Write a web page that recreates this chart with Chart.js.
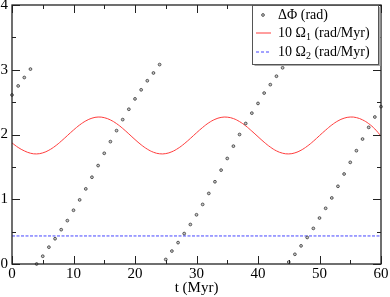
<!DOCTYPE html>
<html><head><meta charset="utf-8">
<script src="https://cdn.jsdelivr.net/npm/chart.js@4/dist/chart.umd.min.js"></script>
<style>html,body{margin:0;padding:0;background:#fff;overflow:hidden}</style>
</head><body>
<canvas id="c" width="390" height="297" style="display:block;width:390px;height:297px"></canvas>
<script>
const times = [0,1,2,3,4,5,6,7,8,9,10,11,12,13,14,15,16,17,18,19,20,21,22,23,24,25,26,27,28,29,30,31,32,33,34,35,36,37,38,39,40,41,42,43,44,45,46,47,48,49,50,51,52,53,54,55,56,57,58,59,60];
const dPhi = [2.61,2.75,2.88,3.01,0.00,0.12,0.26,0.39,0.53,0.67,0.83,0.99,1.16,1.34,1.52,1.71,1.89,2.06,2.23,2.39,2.55,2.69,2.83,2.95,3.08,0.07,0.20,0.33,0.47,0.61,0.76,0.92,1.09,1.27,1.45,1.63,1.82,2.00,2.17,2.33,2.48,2.64,2.77,2.90,3.03,0.03,0.15,0.28,0.41,0.55,0.71,0.86,1.02,1.20,1.39,1.57,1.75,1.93,2.11,2.27,2.43];
const omega1 = [1.87,1.80,1.747,1.711,1.700,1.716,1.757,1.819,1.897,1.983,2.069,2.147,2.210,2.252,2.270,2.260,2.225,2.168,2.094,2.009,1.922,1.841,1.774,1.726,1.702,1.705,1.734,1.786,1.856,1.939,2.026,2.109,2.181,2.234,2.264,2.268,2.246,2.199,2.133,2.052,1.966,1.881,1.806,1.747,1.711,1.700,1.716,1.757,1.819,1.896,1.983,2.068,2.147,2.210,2.252,2.270,2.261,2.226,2.168,2.085,1.975];
const omega2Times = [0, 60];
const omega2 = [0.433, 0.433];
const xMajor = [0,10,20,30,40,50,60];
const xMinor = [5,15,25,35,45,55];
const yMajor = [0,1,2,3,4];
const yMinor = [0.5,1.5,2.5,3.5];
const seriesNames = ['ΔΦ (rad)', '10 Ω', '10 Ω'];
const seriesSubs = ['', '1', '2'];
const seriesUnits = ['', ' (rad/Myr)', ' (rad/Myr)'];
const xTitle = 't (Myr)';

const RED = 'rgb(255,60,60)';
const BLUE = 'rgb(70,70,255)';
const SERIF = '"Liberation Serif", "DejaVu Serif", serif';
const ptStyle = {pointRadius:1.4, pointBackgroundColor:'#c8c8c8', pointBorderColor:'#222', pointBorderWidth:0.7};

const decor = {
  id:'decor',
  afterDraw(chart){
    const {ctx, chartArea:a, scales:{x,y}} = chart;
    ctx.save();
    const ln = (x1,y1,x2,y2)=>{ctx.beginPath();ctx.moveTo(x1,y1);ctx.lineTo(x2,y2);ctx.stroke();};
    ctx.strokeStyle = '#222'; ctx.lineWidth = 1;
    const tx = (v,L)=>{const p=Math.round(x.getPixelForValue(v))+0.5; ln(p,a.bottom,p,a.bottom-L); ln(p,a.top,p,a.top+L);};
    const ty = (v,L)=>{const p=Math.round(y.getPixelForValue(v))+0.5; ln(a.left,p,a.left+L,p); ln(a.right,p,a.right-L,p);};
    xMajor.forEach(v=>tx(v,8)); xMinor.forEach(v=>tx(v,4));
    yMajor.forEach(v=>ty(v,8)); yMinor.forEach(v=>ty(v,4));
    ctx.lineWidth = 1.3;
    ctx.strokeRect(a.left, a.top, a.right-a.left, a.bottom-a.top);
    // legend box
    const bx = 252.5, by = a.top, bw = 126, bh = 59;
    ctx.fillStyle = '#aaa';
    ctx.fillRect(bx+2, by+2, bw, bh);
    ctx.fillStyle = '#fff';
    ctx.fillRect(bx, by, bw, bh);
    ctx.lineWidth = 1; ctx.strokeStyle = '#555';
    ctx.strokeRect(bx, by+0.5, bw, bh);
    const rows = [15, 33, 52];
    ctx.beginPath(); ctx.arc(263, rows[0], 1.4, 0, Math.PI*2);
    ctx.fillStyle='#c8c8c8'; ctx.fill(); ctx.lineWidth=0.7; ctx.strokeStyle='#222'; ctx.stroke();
    ctx.lineWidth = 1;
    ctx.strokeStyle = RED; ln(256, rows[1], 271, rows[1]);
    ctx.strokeStyle = BLUE; ctx.setLineDash([3,2]); ln(256, rows[2], 271, rows[2]); ctx.setLineDash([]);
    ctx.fillStyle = '#000'; ctx.textBaseline = 'middle'; ctx.textAlign='left';
    for (let i=0;i<3;i++){
      let px = 278;
      ctx.font = '14px ' + SERIF;
      ctx.fillText(seriesNames[i], px, rows[i]);
      px += ctx.measureText(seriesNames[i]).width;
      if (seriesSubs[i]) {
        ctx.font = '10px ' + SERIF;
        ctx.fillText(seriesSubs[i], px, rows[i]+4);
        px += ctx.measureText(seriesSubs[i]).width;
        ctx.font = '14px ' + SERIF;
        ctx.fillText(seriesUnits[i], px, rows[i]);
      }
    }
    ctx.restore();
  }
};

new Chart(document.getElementById('c'), {
  type:'scatter',
  data:{
    datasets:[
      {label:'dphi', data: times.map((t,i)=>({x:t,y:dPhi[i]})), showLine:false, ...ptStyle, clip:false, order:1},
      {label:'omega1', data: times.map((t,i)=>({x:t,y:omega1[i]})), showLine:true, borderColor:RED, backgroundColor:RED, borderWidth:1, pointRadius:0, tension:0.4, order:2},
      {label:'omega2', data: omega2Times.map((t,i)=>({x:t,y:omega2[i]})), showLine:true, borderColor:BLUE, backgroundColor:BLUE, borderWidth:1, borderDash:[3,1.5], pointRadius:0, order:3}
    ]
  },
  options:{
    responsive:false, animation:false, devicePixelRatio:1,
    layout:{padding:{left:0,right:9,top:5,bottom:0}},
    plugins:{legend:{display:false}, tooltip:{enabled:false}},
    scales:{
      x:{type:'linear', min:0, max:60,
        afterBuildTicks(s){ s.ticks = xMajor.map(v=>({value:v})); },
        ticks:{font:{family:SERIF,size:15}, color:'#000', padding:1, maxRotation:0, autoSkip:false},
        grid:{display:false, drawTicks:false}, border:{display:false},
        title:{display:true, text:xTitle, font:{family:SERIF,size:15}, color:'#000', padding:{top:0,bottom:0}},
        afterFit(s){ s.height = 33; s.paddingLeft = 0; s.paddingRight = 0; }
      },
      y:{type:'linear', min:0, max:4,
        afterBuildTicks(s){ s.ticks = yMajor.map(v=>({value:v})); },
        ticks:{font:{family:SERIF,size:15}, color:'#000', padding:4, autoSkip:false},
        grid:{display:false, drawTicks:false}, border:{display:false},
        afterFit(s){ s.width = 12; s.paddingTop = 0; s.paddingBottom = 0; }
      }
    }
  },
  plugins:[decor]
});
</script>
</body></html>
